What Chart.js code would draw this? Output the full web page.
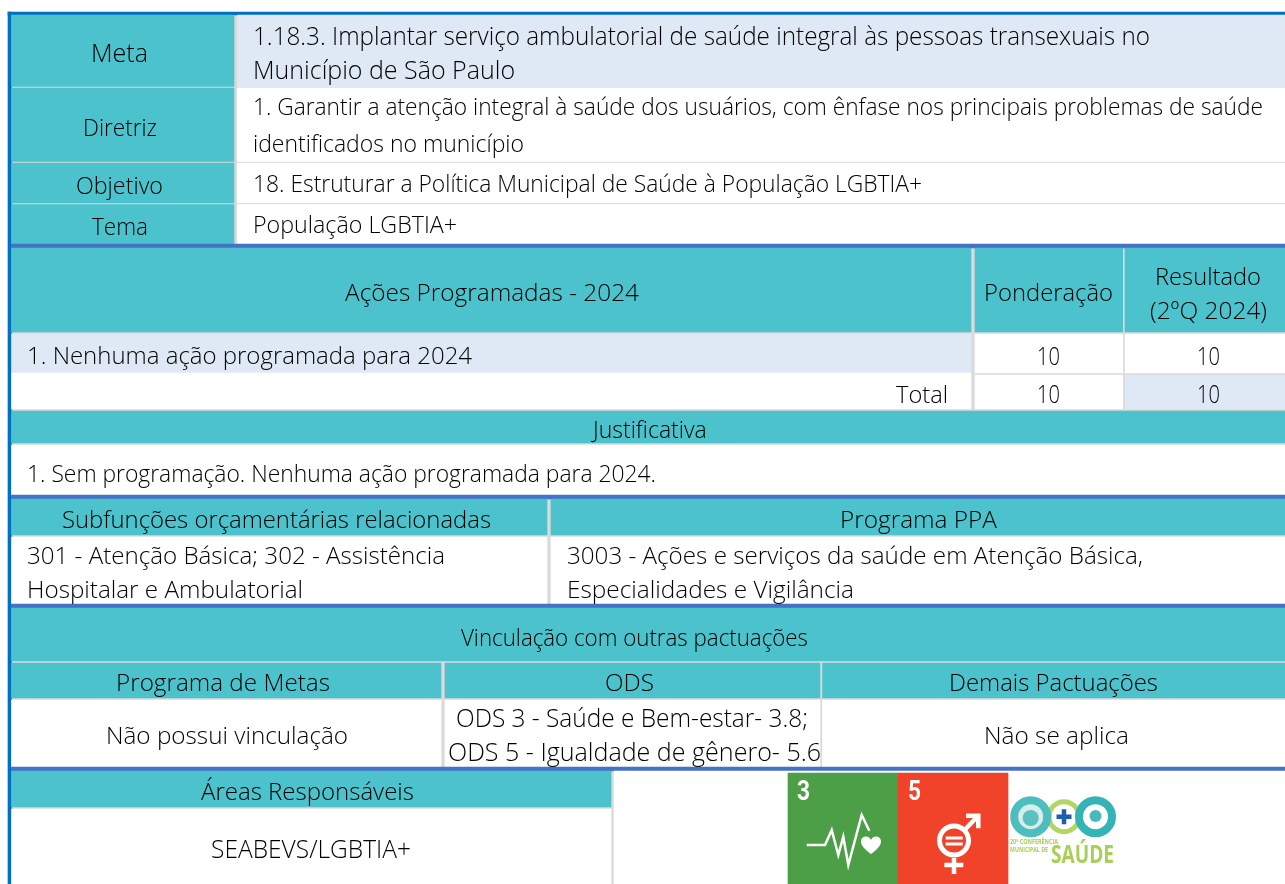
<!DOCTYPE html>
<html lang="pt">
<head>
<meta charset="utf-8">
<title>Meta 1.18.3</title>
<script src="https://cdn.jsdelivr.net/npm/chart.js"></script>
<style>
  html, body { margin: 0; padding: 0; background: #fff; }
  canvas { display: block; }
</style>
</head>
<body>
<canvas id="myChart" width="1285" height="884"></canvas>
<script>
// Table content
const metaLabels = ["Meta", "Diretriz", "Objetivo", "Tema"];
const metaText = [
  "1.18.3. Implantar serviço ambulatorial de saúde integral às pessoas transexuais no",
  "Município de São Paulo",
  "1. Garantir a atenção integral à saúde dos usuários, com ênfase nos principais problemas de saúde",
  "identificados no município",
  "18. Estruturar a Política Municipal de Saúde à População LGBTIA+",
  "População LGBTIA+",
];
const acoesHeaders = ["Ações Programadas - 2024", "Ponderação", "Resultado", "(2ºQ 2024)"];
const acoesRow = "1. Nenhuma ação programada para 2024";
const totalLabel = "Total";
const ponderacao = [10, 10];
const resultado = [10, 10];
const justificativa = ["Justificativa", "1. Sem programação. Nenhuma ação programada para 2024."];
const orcamento = [
  "Subfunções orçamentárias relacionadas",
  "Programa PPA",
  "301 - Atenção Básica; 302 - Assistência",
  "Hospitalar e Ambulatorial",
  "3003 - Ações e serviços da saúde em Atenção Básica,",
  "Especialidades e Vigilância",
];
const vinculacao = [
  "Vinculação com outras pactuações",
  "Programa de Metas",
  "ODS",
  "Demais Pactuações",
  "Não possui vinculação",
  "ODS 3 - Saúde e Bem-estar- 3.8;",
  "ODS 5 - Igualdade de gênero- 5.6",
  "Não se aplica",
];
const areas = ["Áreas Responsáveis", "SEABEVS/LGBTIA+"];
const logoText = ["3", "5", "20ª CONFERÊNCIA", "MUNICIPAL DE", "SAÚDE"];

const TEAL = "#4cc3cc";
const PALE = "#dee9f5";
const GREY = "#dadada";
const WHITE = "#ffffff";
const HEAVY = "#4472c4";
const EDGE = "#0070c0";
const INK = "#000000";
const TEXT_DROP = 2; // Open Sans sits high with a middle baseline

// x0, x1, y0, y1, colour
const cells = [
  [11, 1285, 15, 884, GREY],
  [8, 1285, 12, 15, EDGE],
  [8, 11.5, 12, 884, EDGE],
  // Meta block
  [11.5, 234, 15, 86.5, TEAL], [237.5, 1285, 15, 87, PALE],
  [11.5, 234, 88, 161.5, TEAL], [237.5, 1285, 88, 161.5, WHITE],
  [11.5, 234, 163, 203, TEAL], [237.5, 1285, 163, 203, WHITE],
  [11.5, 234, 204.5, 244, TEAL], [237.5, 1285, 204.5, 244, WHITE],
  [11.5, 1285, 244, 248, HEAVY],
  // Acoes block
  [11.5, 971, 248, 332, TEAL], [975, 1122.7, 248, 332, TEAL], [1125, 1285, 248, 332, TEAL],
  [11.5, 971, 334, 373, PALE], [975, 1122.7, 334, 373, WHITE], [1125, 1285, 334, 373, WHITE],
  [11.5, 971, 373, 409, WHITE], [975, 1122.7, 375, 409, WHITE], [1125, 1285, 375, 409, PALE],
  // Justificativa
  [11.5, 1285, 411, 443, TEAL],
  [11.5, 1285, 445, 495, WHITE],
  [11.5, 1285, 495, 499, HEAVY],
  // Orcamento
  [11.5, 547, 499, 535, TEAL], [551, 1285, 499, 535, TEAL],
  [11.5, 547, 537, 604, WHITE], [551, 1285, 537, 604, WHITE],
  [11.5, 1285, 604, 608, HEAVY],
  // Vinculacao
  [11.5, 1285, 608, 661, TEAL],
  [11.5, 441, 663, 698, TEAL], [445, 820, 663, 698, TEAL], [822.5, 1285, 663, 698, TEAL],
  [11.5, 441, 700, 767, WHITE], [445, 820, 700, 767, WHITE], [822.5, 1285, 700, 767, WHITE],
  [11.5, 1285, 767, 771, HEAVY],
  // Areas
  [11.5, 611, 771, 807, TEAL], [11.5, 611, 809, 884, WHITE],
  [614, 1285, 771, 884, WHITE],
  // ODS tiles
  [788, 898, 773, 884, "#4c9f46"], [898, 1008, 773, 884, "#f0432a"],
];

// text, x start, x end, y centre, font size
const labels = [
  [metaLabels[0], 91, 148, 53, 25], [metaLabels[1], 83, 157, 127, 24],
  [metaLabels[2], 76, 163, 185, 24], [metaLabels[3], 92, 148, 226, 24],
  [metaText[0], 253, 1150, 36, 25], [metaText[1], 253, 524, 70, 25],
  [metaText[2], 253, 1263, 106, 23], [metaText[3], 253, 524, 143, 23],
  [metaText[4], 253, 922, 183, 23], [metaText[5], 253, 457, 224, 23.5],
  [acoesHeaders[0], 345, 639, 292, 24.5], [acoesHeaders[1], 984, 1113, 292, 24],
  [acoesHeaders[2], 1155, 1261, 276, 24], [acoesHeaders[3], 1150, 1267, 310, 24.5],
  [acoesRow, 27, 472, 355, 24],
  [String(ponderacao[0]), 1037, 1060, 356, 25], [String(resultado[0]), 1197, 1220, 356, 25],
  [totalLabel, 896, 948, 394, 24],
  [String(ponderacao[1]), 1037, 1060, 394, 25], [String(resultado[1]), 1197, 1220, 394, 25],
  [justificativa[0], 593, 710, 429, 23], [justificativa[1], 27, 656, 473, 23],
  [orcamento[0], 62, 491, 519, 24], [orcamento[1], 840, 997, 519, 24.5],
  [orcamento[2], 27, 445, 555, 24.5], [orcamento[3], 27, 303, 589, 24.5],
  [orcamento[4], 567, 1143, 555, 24.5], [orcamento[5], 567, 854, 589, 24.5],
  [vinculacao[0], 461, 808, 637, 24],
  [vinculacao[1], 116, 330, 682, 24.5], [vinculacao[2], 605, 654, 682, 24.5], [vinculacao[3], 949, 1158, 682, 24],
  [vinculacao[4], 106, 348, 735, 24.5],
  [vinculacao[5], 456, 808, 718, 25], [vinculacao[6], 448, 821, 752, 25.5],
  [vinculacao[7], 984, 1129, 735, 24.5],
  [areas[0], 201, 414, 791, 24], [areas[1], 211, 411, 849, 24.8],
];

// ODS 3 pulse line and ODS 5 symbol strokes
const pulseLine = [
  { x: 806.7, y: 845 }, { x: 825, y: 845 }, { x: 831.7, y: 830 }, { x: 838.3, y: 855 },
  { x: 843.3, y: 836.7 }, { x: 848.3, y: 865 }, { x: 861.7, y: 815 }, { x: 869.3, y: 830.7 },
];
const genderStrokes = [
  [{ x: 966, y: 815.7 }, { x: 978.3, y: 815.7 }, { x: 978.3, y: 828.3 }],
  [{ x: 965, y: 829.5 }, { x: 977, y: 817 }],
  [{ x: 954, y: 858 }, { x: 954, y: 874 }],
  [{ x: 944.3, y: 865 }, { x: 963.3, y: 865 }],
  [{ x: 945.7, y: 838 }, { x: 962.7, y: 838 }],
  [{ x: 945.7, y: 844 }, { x: 962.7, y: 844 }],
];

function cellDataset(cell, index) {
  const [x0, x1, y0, y1, color] = cell;
  return {
    type: "bar",
    data: [{ x: (x0 + x1) / 2, y: [y0, y1] }],
    barThickness: x1 - x0,
    stack: "cells",
    backgroundColor: color,
    borderWidth: 0,
    order: 1000 - index,
  };
}

function strokeDataset(points, color, width) {
  return {
    type: "line",
    data: points,
    borderColor: color,
    borderWidth: width,
    pointRadius: 0,
    tension: 0,
    fill: false,
    order: 2,
  };
}

function ringDataset(x, y, radius, width, color, fillColor, order) {
  return {
    type: "scatter",
    data: [{ x: x, y: y }],
    pointStyle: "circle",
    pointRadius: radius,
    pointBorderWidth: width,
    pointBorderColor: color,
    pointBackgroundColor: fillColor,
    order: order,
  };
}

// Heart for the ODS 3 tile, used as a point style
function heartImage() {
  const c = document.createElement("canvas");
  c.width = 20;
  c.height = 18;
  const g = c.getContext("2d");
  g.fillStyle = WHITE;
  g.beginPath();
  g.moveTo(10, 18);
  g.bezierCurveTo(2, 12, 0, 9, 0, 5);
  g.bezierCurveTo(0, 1, 7, -2, 10, 4);
  g.bezierCurveTo(13, -2, 20, 1, 20, 5);
  g.bezierCurveTo(20, 9, 18, 12, 10, 18);
  g.fill();
  return c;
}

const datasets = cells.map(cellDataset);
datasets.push(strokeDataset(pulseLine, WHITE, 2.5));
genderStrokes.forEach((s, i) => datasets.push(strokeDataset(s, WHITE, i > 3 ? 3 : 4.5)));
datasets.push(ringDataset(954, 840.5, 14.5, 5, WHITE, "rgba(0,0,0,0)", 2));
datasets.push({
  type: "scatter",
  data: [{ x: 871, y: 845 }],
  pointStyle: heartImage(),
  order: 2,
});
// Conference logo rings
datasets.push(ringDataset(1030.7, 816.7, 16.5, 8, "#4dbdbd", "#d3eeec", 5));
datasets.push(ringDataset(1095.5, 816.7, 16.5, 8, "#35b4b5", WHITE, 5));
datasets.push(ringDataset(1064, 816.7, 15, 5, "#b3d564", WHITE, 6));
datasets.push(ringDataset(1030.7, 818, 8, 0, "#4dbdbd", "#5cc0c0", 4));
datasets.push(ringDataset(1095.5, 816, 6, 0, "#35b4b5", "#49bab9", 4));
datasets.push({
  type: "scatter",
  data: [{ x: 1064, y: 816.7 }],
  pointStyle: "cross",
  pointRadius: 7.5,
  pointBorderWidth: 4.5,
  pointBorderColor: "#1f5fa8",
  order: 3,
});

const tableText = {
  id: "tableText",
  afterDatasetsDraw(chart) {
    const { ctx, scales } = chart;
    ctx.save();
    ctx.textBaseline = "middle";
    ctx.textAlign = "left";
    ctx.fillStyle = INK;
    labels.forEach(([text, x0, x1, y, size]) => {
      ctx.font = `300 ${size}px 'Open Sans'`;
      const left = scales.x.getPixelForValue(x0);
      const right = scales.x.getPixelForValue(x1);
      ctx.fillText(text, left, scales.y.getPixelForValue(y) + TEXT_DROP, right - left);
    });
    // ODS numbers and logo wording
    ctx.fillStyle = WHITE;
    ctx.font = "700 27px Roboto";
    ctx.fillText(logoText[0], scales.x.getPixelForValue(797), scales.y.getPixelForValue(793), 13);
    ctx.fillText(logoText[1], scales.x.getPixelForValue(908), scales.y.getPixelForValue(793), 13);
    ctx.fillStyle = "#a8cf56";
    ctx.font = "700 7px 'Open Sans'";
    ctx.fillText(logoText[2], scales.x.getPixelForValue(1010), scales.y.getPixelForValue(842), 48);
    ctx.fillText(logoText[3], scales.x.getPixelForValue(1010), scales.y.getPixelForValue(850), 38);
    ctx.font = "700 25px 'Open Sans'";
    ctx.fillText(logoText[4], scales.x.getPixelForValue(1051), scales.y.getPixelForValue(856), 63);
    ctx.restore();
  },
};

new Chart(document.getElementById("myChart"), {
  data: { datasets: datasets },
  options: {
    responsive: false,
    animation: false,
    events: [],
    layout: { padding: 0, autoPadding: false },
    plugins: { legend: { display: false }, tooltip: { enabled: false } },
    scales: {
      x: { type: "linear", min: 0, max: 1285, offset: false, display: false },
      y: { type: "linear", min: 0, max: 884, reverse: true, stacked: false, display: false },
    },
  },
  plugins: [tableText],
});
</script>
</body>
</html>
